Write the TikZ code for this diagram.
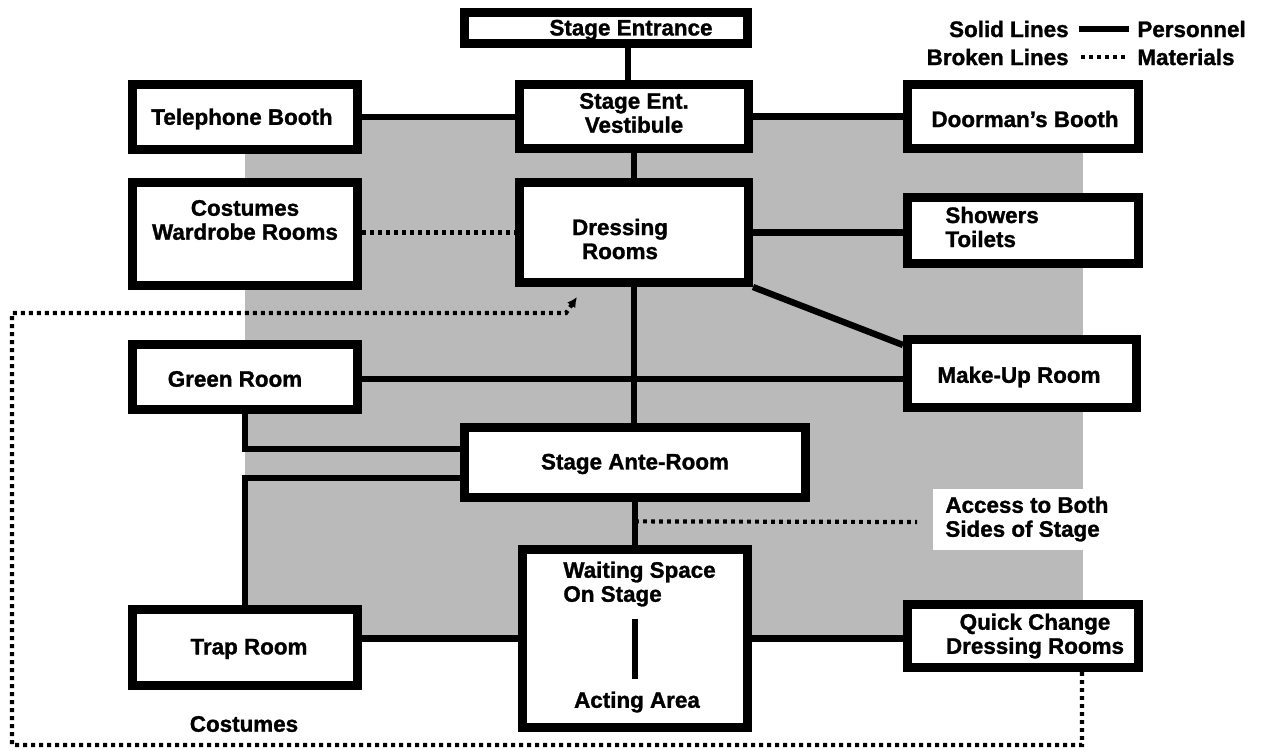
\documentclass[tikz,border=0pt]{standalone}
\usepackage{fontspec}
\setmainfont{Liberation Sans}[BoldFeatures={FakeBold=1.3}]
\usetikzlibrary{arrows.meta,calc}
\begin{document}
\begin{tikzpicture}[x=0.5pt,y=-0.5pt,
  box/.style={draw, line width=4.5pt, fill=white, rectangle, inner sep=0pt},
  lbl/.style={font=\fontsize{11.2}{12}\selectfont\bfseries, align=center, inner sep=0pt},
  conn/.style={line width=3.2pt},
  mat/.style={line width=2.1pt, dash pattern=on 1.9pt off 2.1pt},
  shade/.style={fill=black!27}]
\useasboundingbox (0,0) rectangle (1262,750);
% shaded area
\fill[shade] (245,117) rectangle (1083,640);
% boxes
\node[box, minimum width=141.5pt, minimum height=15.5pt] (entr) at (606,27.5) {};
\node[box, minimum width=112.5pt, minimum height=32.5pt] (tel) at (245,117) {};
\node[box, minimum width=114.5pt, minimum height=32pt] (vest) at (634,116.5) {};
\node[box, minimum width=115.5pt, minimum height=32pt] (door) at (1023,116.5) {};
\node[box, minimum width=112.5pt, minimum height=51.5pt] (cost) at (245,234) {};
\node[box, minimum width=114.5pt, minimum height=50pt] (dress) at (634,232.5) {};
\node[box, minimum width=115.5pt, minimum height=33pt] (show) at (1023,230.5) {};
\node[box, minimum width=112.5pt, minimum height=32.5pt] (green) at (245,377) {};
\node[box, minimum width=114.5pt, minimum height=34pt] (makeup) at (1022,373.5) {};
\node[box, minimum width=170.5pt, minimum height=35pt] (ante) at (635,462.5) {};
\node[box, minimum width=112.5pt, minimum height=89pt] (wait) at (635,638.5) {};
\node[box, minimum width=112.5pt, minimum height=38pt] (trap) at (245,647.5) {};
\node[box, minimum width=115.5pt, minimum height=31.5pt] (quick) at (1023,636) {};
% solid connectors
\draw[conn] ([xshift=-3pt]vest.north) -- ([xshift=-3pt]vest.north |- entr.south);
\draw[conn] (tel.east) -- (tel.east -| vest.west);
\draw[conn] (vest.east) -- (vest.east -| door.west);
\draw[conn] (vest.south) -- (dress.north);
\draw[conn] (dress.east) -- (dress.east -| show.west);
\draw[conn] (dress.south east) -- ([yshift=-5pt]makeup.north west);
\draw[conn] (dress.south) -- (dress.south |- ante.north);
\draw[conn] ([yshift=-1pt]green.east) -- ([yshift=-1pt]green.east -| makeup.west);
\draw[conn] (green.south) |- ([yshift=6.75pt]ante.west);
\draw[conn] ([yshift=-7.75pt]ante.west) -| (trap.north);
\draw[conn] (ante.south) -- (wait.north);
\draw[conn] (wait.west) -- (wait.west -| trap.east);
\draw[conn] (wait.east) -- (wait.east -| quick.west);
% materials (dotted)
\draw[mat] (cost.east |- dress.west) -- (dress.west);
\coordinate (acc) at (917,522);
\draw[mat] ($(ante.south)!0.45!(wait.north)$) -- (acc);
\coordinate (c1) at (1082,745);
\coordinate (c2) at (12,745);
\coordinate (c3) at (12,313);
\coordinate (c4) at (566,313);
\coordinate (c5) at (577,297);
\draw[mat, -{Latex[length=5pt,width=5pt]}] (quick.south -| c1) -- (c1) -- (c2) -- (c3) -- (c4) -- (c5);
% texts
\node[lbl] (entrt) at (631,30) {Stage Entrance};
\node[lbl] (telt) at (242,119) {Telephone Booth};
\node[lbl] (vestt) at (634,113) {Stage Ent.\\Vestibule};
\node[lbl] (doort) at (1025,119) {Doorman's Booth};
\node[lbl] (costt) at (245,220) {Costumes\\Wardrobe Rooms};
\node[lbl] (dresst) at (620,239) {Dressing\\Rooms};
\node[lbl, anchor=west, align=left] (showt) at (945,227) {Showers\\Toilets};
\node[lbl] (greent) at (235,379) {Green Room};
\node[lbl] (makeupt) at (1019,377) {Make-Up Room};
\node[lbl] (antet) at (635,464) {Stage Ante-Room};
\node[lbl, anchor=west, align=left] (waitt) at (563,584) {Waiting Space\\On Stage};
\node[lbl] (actt) at (637,702) {Acting Area};
\draw[conn, line width=2.8pt] ([yshift=-6pt]waitt.south -| wait.center) -- ([yshift=6pt]actt.north -| wait.center);
\node[lbl] (trapt) at (249,649) {Trap Room};
\node[lbl] (quickt) at (1035,636) {Quick Change\\Dressing Rooms};
\node[lbl, anchor=west, align=left, fill=white, inner xsep=6pt, inner ysep=4pt] (acct) at (933,519) {Access to Both\\Sides of Stage};
\node[lbl] (costlbl) at (244,724) {Costumes};
% legend
\node[lbl, anchor=east] (sl) at (1069,29) {Solid Lines};
\node[lbl, anchor=west] (pers) at (1137,29) {Personnel};
\draw[conn, line width=2.6pt] ([xshift=5pt]sl.east) -- ([xshift=-4pt]pers.west);
\node[lbl, anchor=east] (bl) at (1069,57) {Broken Lines};
\node[lbl, anchor=west] (matl) at (1137,57) {Materials};
\draw[mat] ([xshift=6pt]bl.east) -- ([xshift=-5pt]matl.west);
\end{tikzpicture}
\end{document}
